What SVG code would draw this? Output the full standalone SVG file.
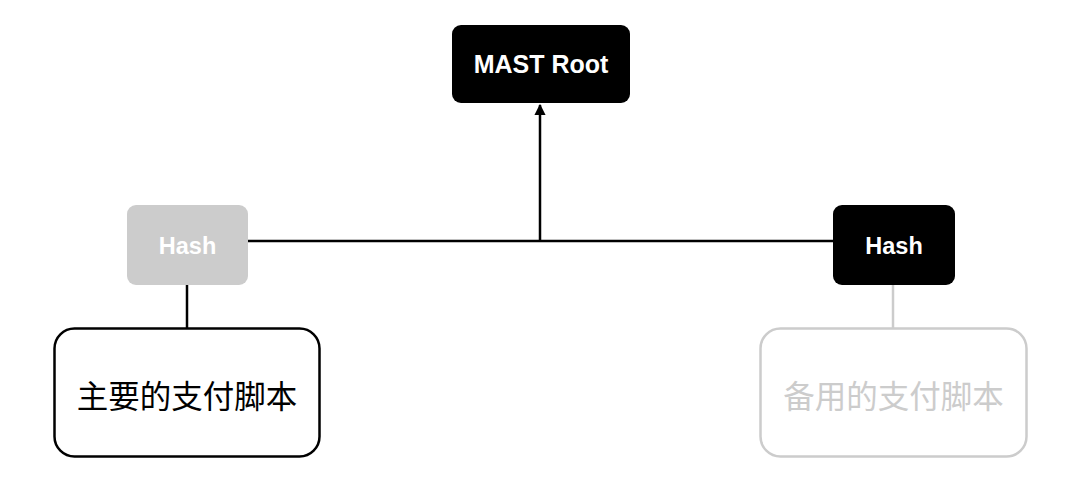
<svg xmlns="http://www.w3.org/2000/svg" width="1080" height="495" viewBox="0 0 1080 495">
<style>
.lbl{font-family:"Liberation Sans","Noto Sans",Arial,sans-serif;font-weight:bold;fill:#fff;text-anchor:middle}
.cjk{font-family:"Noto Sans CJK SC","Noto Sans",sans-serif;font-size:31.5px;text-anchor:middle;dominant-baseline:central}
.ln{stroke:#000;stroke-width:2.5;fill:none}
.lg{stroke:#cccccc;stroke-width:2.5;fill:none}
</style>
<defs>
<marker id="ah" viewBox="0 0 10 10" refX="9" refY="5" markerWidth="4.5" markerHeight="4.5" orient="auto">
<path d="M0,0 L10,5 L0,10 z" fill="#000"/>
</marker>
</defs>
<rect width="1080" height="495" fill="#fff"/>
<g id="connectors">
<line class="ln" x1="248" y1="241" x2="833" y2="241"/>
<line class="ln" x1="540" y1="241" x2="540" y2="105" marker-end="url(#ah)"/>
<line class="ln" x1="187" y1="285" x2="187" y2="328"/>
<line class="lg" x1="893" y1="285" x2="893" y2="328"/>
</g>
<g id="mast-root">
<rect x="452" y="25" width="178" height="78" rx="9" fill="#000"/>
<text class="lbl" x="541" y="73" font-size="25">MAST Root</text>
</g>
<g id="hash-left">
<rect x="127" y="205" width="121" height="80" rx="9" fill="#cccccc"/>
<text class="lbl" x="187.5" y="254" font-size="23.5">Hash</text>
</g>
<g id="hash-right">
<rect x="833" y="205" width="122" height="80" rx="9" fill="#000"/>
<text class="lbl" x="894" y="254" font-size="23.5">Hash</text>
</g>
<g id="script-main">
<rect x="54.5" y="328.5" width="265" height="128" rx="20" fill="#fff" stroke="#000" stroke-width="2.5"/>
<text class="cjk" x="187" y="394" fill="#000">主要的支付脚本</text>
</g>
<g id="script-backup">
<rect x="760.5" y="328.5" width="266" height="128" rx="20" fill="#fff" stroke="#cccccc" stroke-width="2.5"/>
<text class="cjk" x="893.5" y="394" fill="#cccccc">备用的支付脚本</text>
</g>
</svg>
